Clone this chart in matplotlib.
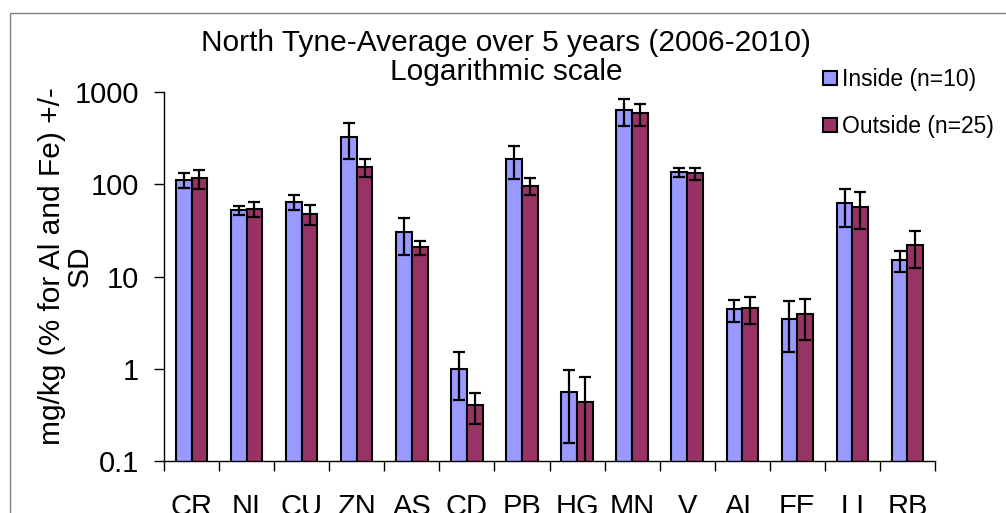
#!/usr/bin/env python
# -*- encoding: utf8 -*-

import matplotlib
matplotlib.use('Agg')
import matplotlib.pyplot as plt
from matplotlib.patches import Rectangle
import numpy as np

plt.rcParams['font.family'] = ['Liberation Sans', 'DejaVu Sans']

elements = ['CR', 'NI', 'CU', 'ZN', 'AS', 'CD', 'PB', 'HG', 'MN', 'V', 'AL', 'FE', 'LI', 'RB']

inside_mean = [111, 52.6, 64.7, 323, 30.1, 0.99, 186, 0.565, 638, 135, 4.41, 3.46, 62.1, 15.0]
inside_sd = [20, 6, 12, 137, 13, 0.53, 73, 0.41, 210, 15, 1.2, 1.95, 27.7, 3.9]

outside_mean = [116, 54, 47.5, 155, 20.7, 0.40, 96.4, 0.436, 588, 131, 4.52, 3.92, 57.1, 21.8]
outside_sd = [27, 10, 11.5, 35, 3.8, 0.15, 20, 0.38, 155, 20, 1.5, 1.85, 24.5, 9.5]

TITLE = "North Tyne-Average over 5 years (2006-2010)\nLogarithmic scale"
YTITLE = "mg/kg (% for Al and Fe) +/-\nSD"
LEGEND = ['Inside (n=10)', 'Outside (n=25)']

W, H = 1006, 513
fig = plt.figure(figsize=(W / 100.0, H / 100.0), dpi=100)
ax = fig.add_axes([164.0 / W, 1 - 461.0 / H, (935.0 - 164.0) / W, (461.0 - 92.0) / H])

x = np.arange(len(elements))
bw = 0.285
errkw = dict(ecolor='black', elinewidth=1.6, capsize=4.5, capthick=1.6)

b1 = ax.bar(x - bw / 2, inside_mean, bw, yerr=inside_sd, color='#9999ff',
            edgecolor='black', linewidth=1.5, error_kw=errkw, label=LEGEND[0], zorder=2)
b2 = ax.bar(x + bw / 2, outside_mean, bw, yerr=outside_sd, color='#993366',
            edgecolor='black', linewidth=1.5, error_kw=errkw, label=LEGEND[1], zorder=2)

ax.set_yscale('log')
ax.set_ylim(0.1, 1000)
ax.set_xlim(-0.5, len(elements) - 0.5)
ax.set_yticks([0.1, 1, 10, 100, 1000])
ax.set_yticklabels(['0.1', '1', '10', '100', '1000'])
ax.yaxis.set_minor_locator(matplotlib.ticker.NullLocator())

ax.set_xticks(x)
ax.set_xticklabels(elements)
ax.set_xticks(np.arange(len(elements) + 1) - 0.5, minor=True)
ax.tick_params(axis='x', which='major', length=0, pad=23, labelsize=21)
ax.tick_params(axis='x', which='minor', length=7, width=1, direction='out')
ax.tick_params(axis='y', which='major', length=7, width=1, pad=11, labelsize=21)

for s in ['top', 'right']:
    ax.spines[s].set_visible(False)
for s in ['left', 'bottom']:
    ax.spines[s].set_linewidth(1)

fig.text(506.0 / W, 1 - 29.0 / H, TITLE, ha='center', va='top', fontsize=21.5,
         linespacing=1.06)
fig.text(66.0 / W, 1 - 266.0 / H, YTITLE, ha='center', va='center', rotation=90,
         multialignment='center', fontsize=21.5, linespacing=0.98)

fig.legend(handles=[b1, b2], labels=LEGEND, loc='upper left',
           bbox_to_anchor=(823.0 / W, 1 - 68.0 / H), frameon=False, fontsize=16.5,
           handlelength=0.6, handleheight=0.6, handletextpad=0.25, labelspacing=1.05,
           borderaxespad=0, borderpad=0)

# frame around the chart area
fig.patches.append(Rectangle((10.0 / W, -0.1), 1.2, 1.1 - 13.0 / H,
                             transform=fig.transFigure, fill=False, edgecolor='#808080',
                             linewidth=1))

fig.savefig('out.png', dpi=100)
